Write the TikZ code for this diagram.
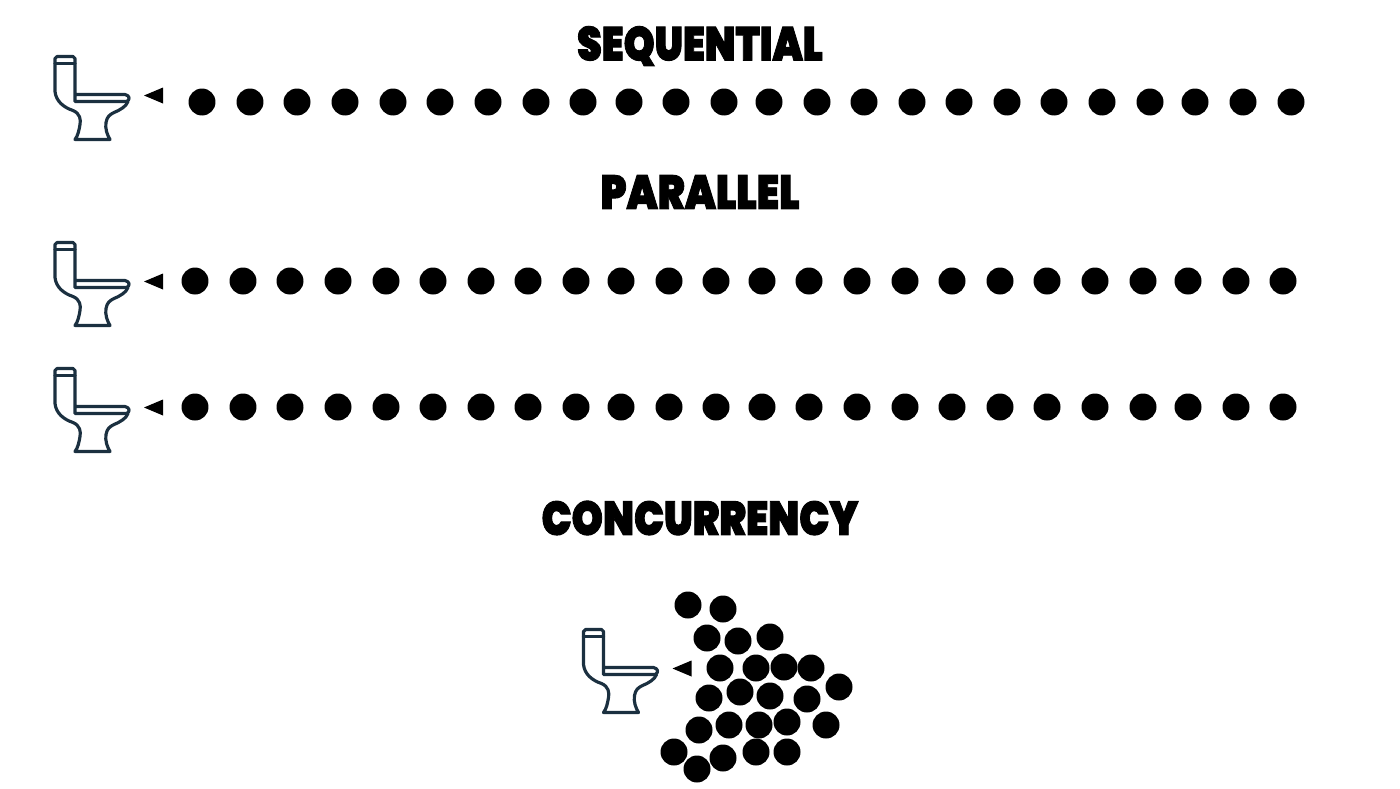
\documentclass[tikz,border=0pt]{standalone}
\usepackage{fontspec}
\newfontfamily\titlefont[UprightFont=* Black,FakeBold=2]{Poppins}
\definecolor{bowlcol}{HTML}{1B3040}
\tikzset{
  person/.style={circle,fill=black,inner sep=0pt,minimum size=0.54cm},
  title/.style={inner sep=0pt,font=\titlefont\fontsize{27}{27}\selectfont},
  bowlline/.style={draw=bowlcol,line width=1.8pt,line join=round,line cap=round},
  toilet/.pic={
    \draw [bowlline] (2,0) -- (18,0) -- (20,2) -- (20,45) -- (72,45)
      .. controls (75,43) and (75,39) .. (70,38) -- (20,38);
    \draw [bowlline] (0,7) -- (20,7);
    \draw [bowlline] (2,0) -- (0,2) -- (0,35)
      .. controls (1,45) and (9,51) .. (18,54)
      .. controls (25,57) and (26,63) .. (25,68)
      .. controls (24,74) and (23,79) .. (20,83) -- (55,83)
      .. controls (52,78) and (50,72) .. (51,66)
      .. controls (52,60) and (55,58) .. (59,56)
      .. controls (66,53) and (71,50) .. (73,45);
    \fill [black] (89,39) -- (108,31) -- (108,47) -- cycle;
  }
}
\begin{document}
\begin{tikzpicture}[x=0.02cm,y=-0.02cm]
\useasboundingbox (0,0) rectangle (1400,788);
\node [title,xscale=0.83] (seqTitle) at (700,46) {SEQUENTIAL};
\node [title,xscale=0.85] (parTitle) at (700,192) {PARALLEL};
\node [title,xscale=0.84] (conTitle) at (700,518) {CONCURRENCY};
\pic (seqToilet) at (55,56.5) {toilet};
\pic (parToiletA) at (55,242.5) {toilet};
\pic (parToiletB) at (55,368.5) {toilet};
\pic (conToilet) at (583.5,629.5) {toilet};
\foreach \px [count=\i] in {202,250,297,345,393,440,488,536,583,629,676,724,769,817,864,912,959,1007,1054,1102,1150,1195,1243,1291}
  \node [person] (seq\i) at (\px,102) {};
\foreach \px [count=\i] in {195,243,290,338,386,433,481,528,576,621,669,716,762,809,857,905,952,1000,1047,1095,1143,1188,1236,1283} {
  \node [person] (parA\i) at (\px,281) {};
  \node [person] (parB\i) at (\px,407) {};
}
\foreach \px/\py [count=\i] in {688/605,723/609,707/638,738/641,770/637,720/668,756/668,784/667,811/668,839/687,709/698,740/692,770/696,807/699,699/730,729/725,759/725,787/722,826/725,674/752,697/769,723/758,756/752,787/752}
  \node [person] (con\i) at (\px,\py) {};
\end{tikzpicture}
\end{document}
